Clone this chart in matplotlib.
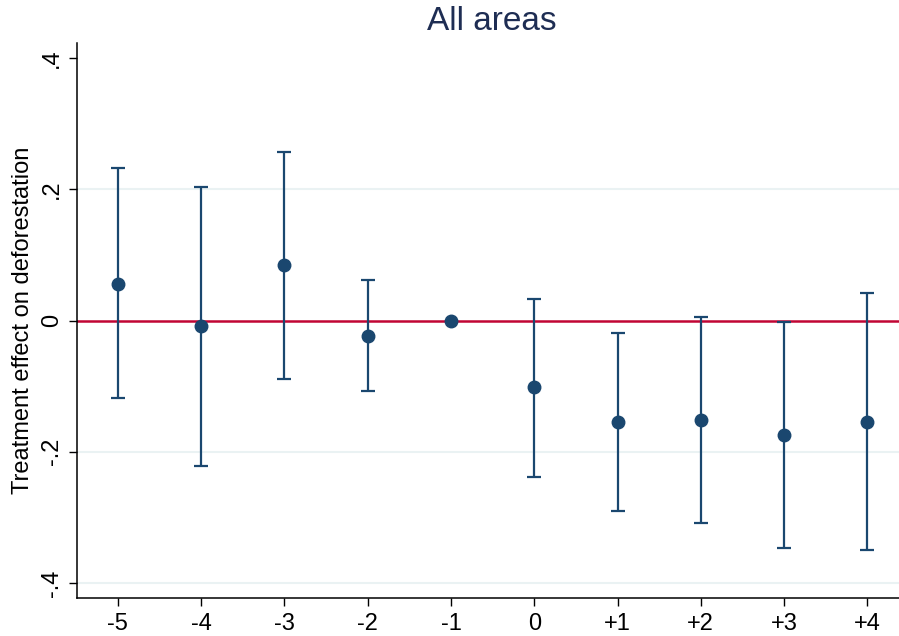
import matplotlib
matplotlib.use('Agg')
import matplotlib.pyplot as plt

# event-time periods and estimates with 95% CI bounds
periods = ['-5', '-4', '-3', '-2', '-1', '0', '+1', '+2', '+3', '+4']
effects = [0.056, -0.009, 0.084, -0.023, 0.0, -0.102, -0.155, -0.151, -0.174, -0.154]
upper = [0.232, 0.204, 0.257, 0.062, None, 0.033, -0.019, 0.006, -0.003, 0.042]
lower = [-0.118, -0.221, -0.089, -0.107, None, -0.238, -0.291, -0.309, -0.346, -0.350]
yticks = [-0.4, -0.2, 0, 0.2, 0.4]
ylabels = ['-.4', '-.2', '0', '.2', '.4']
gridvals = [-0.4, -0.2, 0.2]

NAVY = '#1a476f'
plt.rcParams['font.family'] = ['Liberation Sans', 'DejaVu Sans']

fig = plt.figure(figsize=(8.99, 6.36), dpi=100)
ax = fig.add_axes([0.0857, 0.0597, 0.9143, 0.8727])

for g in gridvals:
    ax.axhline(g, color='#eaf2f3', linewidth=1.5, zorder=0)
ax.axhline(0, color='#c10534', linewidth=1.8, zorder=1)

xs = list(range(len(periods)))
for x, e, u, l in zip(xs, effects, upper, lower):
    if u is not None:
        ax.errorbar([x], [e], yerr=[[e - l], [u - e]], fmt='none', ecolor=NAVY,
                    elinewidth=1.6, capsize=5, capthick=1.6, zorder=2)
ax.plot(xs, effects, 'o', color=NAVY, markersize=9, zorder=3)

ax.set_xlim(-0.49, 9.38)
ax.set_ylim(-0.423, 0.423)
ax.set_xticks(xs)
ax.set_xticklabels(periods, fontsize=17)
ax.set_yticks(yticks)
ax.set_yticklabels(ylabels, fontsize=17, rotation=90, va='center')
ax.tick_params(direction='out', length=6, width=1, color='black')
ax.tick_params(axis='y', pad=4)
ax.tick_params(axis='x', pad=5)
ax.spines['top'].set_visible(False)
ax.spines['right'].set_visible(False)
ax.spines['left'].set_linewidth(1.1)
ax.spines['bottom'].set_linewidth(1.1)
ax.set_ylabel('Treatment effect on deforestation', fontsize=17, labelpad=5)
ax.set_title('All areas', fontsize=24, color='#1e2d53', pad=9, x=0.505)

fig.savefig('out.png', dpi=100)
